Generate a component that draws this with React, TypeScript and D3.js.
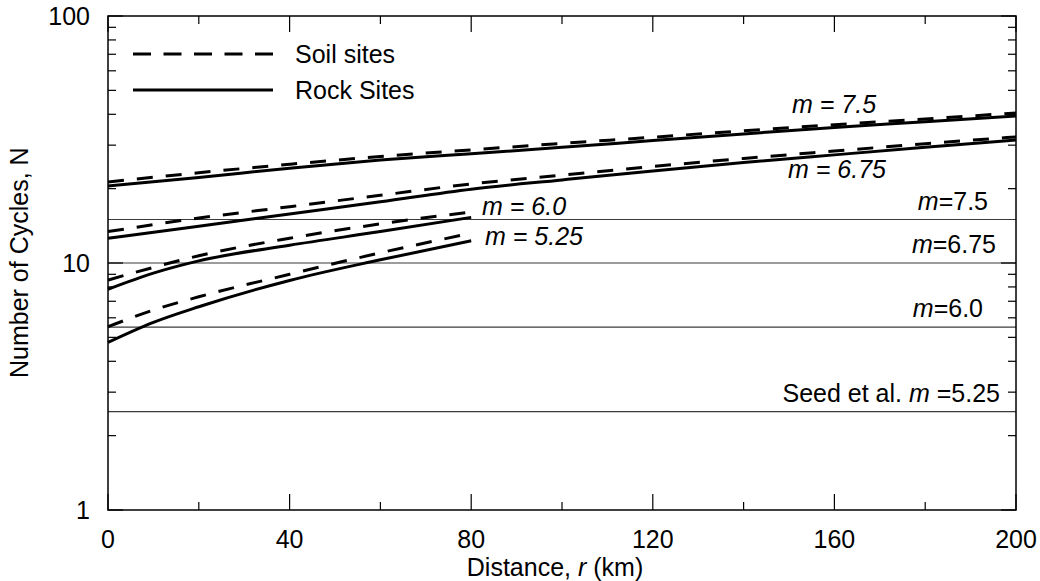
import React from "react";
import * as d3 from "d3";

const distanceLong = [0, 20, 40, 60, 80, 100, 120, 140, 160, 180, 200];
const distanceShort = [0, 10, 20, 40, 60, 80];

const rock75 = [20.5, 22.2, 24.2, 26.1, 27.7, 29.4, 31.3, 33.3, 35.4, 37.3, 39.4];
const soil75 = [21.3, 23.2, 25.1, 27.0, 28.7, 30.5, 32.3, 34.3, 36.3, 38.3, 40.5];
const rock675 = [12.6, 14.1, 15.8, 17.7, 19.9, 21.7, 23.6, 25.5, 27.4, 29.4, 31.5];
const soil675 = [13.4, 15.2, 16.9, 18.8, 20.9, 22.7, 24.6, 26.5, 28.4, 30.4, 32.4];
const rock60 = [7.83, 9.1, 10.2, 11.8, 13.4, 15.3];
const soil60 = [8.53, 9.6, 10.7, 12.6, 14.4, 16.1];
const rock525 = [4.77, 5.75, 6.65, 8.5, 10.3, 12.3];
const soil525 = [5.52, 6.45, 7.3, 9.0, 11.0, 13.2];

const seedLevels = [15, 10, 5.5, 2.5];
const seedMagnitudes = ["7.5", "6.75", "6.0", "5.25"];

const xMajorTicks = [0, 40, 80, 120, 160, 200];
const xMinorTicks = [20, 60, 100, 140, 180];
const yMajorTicks = [1, 10, 100];
const yMinorTicks = [2, 3, 4, 5, 6, 7, 8, 9, 20, 30, 40, 50, 60, 70, 80, 90];

const FONT = "'Liberation Sans', Arial, Helvetica, sans-serif";

export default function App() {
  const left = 108, right = 1016, top = 16, bottom = 510;
  const x = d3.scaleLinear().domain([0, 200]).range([left, right]);
  const y = d3.scaleLog().domain([1, 100]).range([bottom, top]);
  const line = d3
    .line<[number, number]>()
    .x((d) => x(d[0]))
    .y((d) => y(d[1]))
    .curve(d3.curveMonotoneX);

  const series = [
    { r: distanceLong, n: rock75, dashed: false },
    { r: distanceLong, n: soil75, dashed: true },
    { r: distanceLong, n: rock675, dashed: false },
    { r: distanceLong, n: soil675, dashed: true },
    { r: distanceShort, n: rock60, dashed: false },
    { r: distanceShort, n: soil60, dashed: true },
    { r: distanceShort, n: rock525, dashed: false },
    { r: distanceShort, n: soil525, dashed: true },
  ];

  const gridLabelX = [988, 996, 983, 1000];
  const fs = 25;

  return (
    <div style={{ position: "absolute", left: 0, top: 0 }}>
      <svg width={1040} height={581} style={{ display: "block", background: "#fff" }} fontFamily={FONT}>
        {seedLevels.map((v, i) => (
          <line key={"g" + i} x1={left} x2={right} y1={y(v)} y2={y(v)} stroke="#3a3a3a" strokeWidth={1.2} />
        ))}
        {seedLevels.map((v, i) => (
          <text key={"gl" + i} x={gridLabelX[i]} y={y(v) - 10} fontSize={fs} textAnchor="end" fill="#000">
            {i === 3 ? <tspan>Seed et al. </tspan> : null}
            <tspan fontStyle="italic">m</tspan>
            <tspan>{i === 3 ? " =" : "="}{seedMagnitudes[i]}</tspan>
          </text>
        ))}

        {series.map((s, i) => (
          <path
            key={"s" + i}
            d={line(s.r.map((r, j) => [r, s.n[j]] as [number, number])) || ""}
            fill="none"
            stroke="#000"
            strokeWidth={3}
            strokeDasharray={s.dashed ? "16 13" : undefined}
          />
        ))}

        <text x={792} y={113} fontSize={fs} fontStyle="italic">m = 7.5</text>
        <text x={788} y={178} fontSize={fs} fontStyle="italic">m = 6.75</text>
        <text x={482} y={215} fontSize={fs} fontStyle="italic">m = 6.0</text>
        <text x={485} y={245} fontSize={fs} fontStyle="italic">m = 5.25</text>

        <rect x={left} y={top} width={right - left} height={bottom - top} fill="none" stroke="#000" strokeWidth={1.5} />

        {xMajorTicks.map((t) => (
          <g key={"xm" + t}>
            <line x1={x(t)} x2={x(t)} y1={bottom} y2={bottom - 16} stroke="#000" strokeWidth={1.2} />
            <line x1={x(t)} x2={x(t)} y1={top} y2={top + 16} stroke="#000" strokeWidth={1.2} />
            <text x={x(t)} y={548} fontSize={fs} textAnchor="middle">{t}</text>
          </g>
        ))}
        {xMinorTicks.map((t) => (
          <g key={"xn" + t}>
            <line x1={x(t)} x2={x(t)} y1={bottom} y2={bottom - 8} stroke="#000" strokeWidth={1.2} />
            <line x1={x(t)} x2={x(t)} y1={top} y2={top + 8} stroke="#000" strokeWidth={1.2} />
          </g>
        ))}

        {yMajorTicks.map((t) => (
          <g key={"ym" + t}>
            <line x1={left} x2={left + 15} y1={y(t)} y2={y(t)} stroke="#000" strokeWidth={1.2} />
            <line x1={right} x2={right - 15} y1={y(t)} y2={y(t)} stroke="#000" strokeWidth={1.2} />
            <text x={90} y={y(t) + 9} fontSize={fs} textAnchor="end">{t}</text>
          </g>
        ))}
        {yMinorTicks.map((t) => (
          <g key={"yn" + t}>
            <line x1={left} x2={left + 8} y1={y(t)} y2={y(t)} stroke="#000" strokeWidth={1.2} />
            <line x1={right} x2={right - 8} y1={y(t)} y2={y(t)} stroke="#000" strokeWidth={1.2} />
          </g>
        ))}

        <text x={555} y={576} fontSize={fs} textAnchor="middle">
          Distance, <tspan fontStyle="italic">r</tspan> (km)
        </text>
        <text transform="translate(28,378) rotate(-90)" fontSize={fs} textAnchor="start">
          Number of Cycles, N
        </text>

        <line x1={133} x2={273} y1={54} y2={54} stroke="#000" strokeWidth={3} strokeDasharray="18 12.5" />
        <text x={295} y={63} fontSize={fs}>Soil sites</text>
        <line x1={133} x2={273} y1={90} y2={90} stroke="#000" strokeWidth={3} />
        <text x={295} y={99} fontSize={fs}>Rock Sites</text>
      </svg>
    </div>
  );
}
